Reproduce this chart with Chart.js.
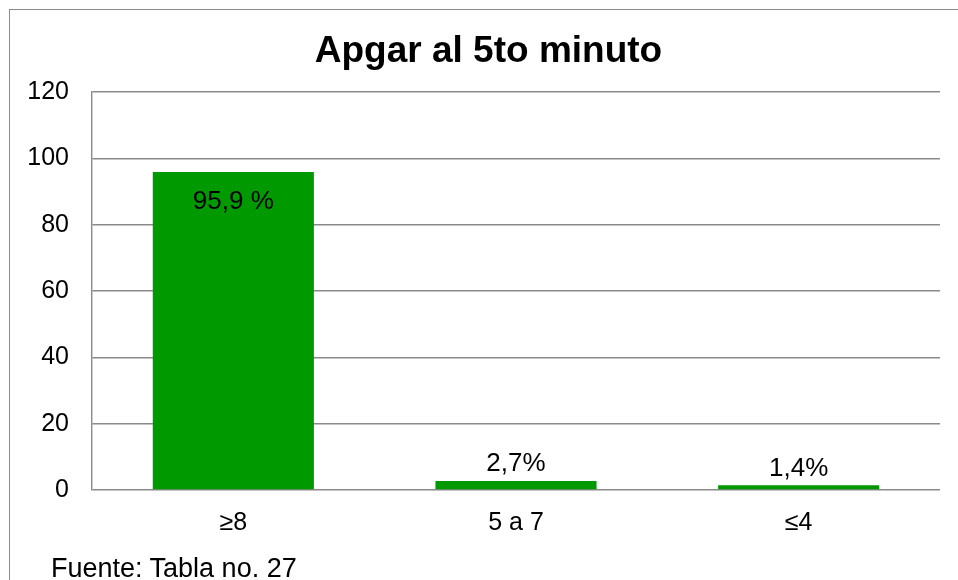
<!DOCTYPE html>
<html lang="es">
<head>
  <meta charset="UTF-8">
  <title>Apgar al 5to minuto</title>
  <script src="https://cdn.jsdelivr.net/npm/chart.js"></script>
  <style>
    body {
      margin: 0;
      background: #fff;
      font-family: 'Liberation Sans', Arial, sans-serif;
    }
    .chart-wrap {
      position: relative;
      width: 958px;
      height: 580px;
      overflow: hidden;
    }
    .frame {
      position: absolute;
      left: 9px;
      top: 9px;
      width: 980px;
      height: 600px;
      border-left: 1.5px solid #8a8a8a;
      border-top: 1.5px solid #8a8a8a;
      pointer-events: none;
    }
    .chart-title {
      position: absolute;
      left: 0;
      width: 977px;
      top: 28px;
      text-align: center;
      font-size: 37px;
      font-weight: bold;
      line-height: 44px;
      color: #000;
    }
    .fuente {
      position: absolute;
      left: 51px;
      top: 552px;
      font-size: 27px;
      color: #000;
      line-height: 32px;
    }
  </style>
</head>
<body>
  <div class="chart-wrap">
    <canvas id="apgarChart"></canvas>
    <div class="frame"></div>
    <div class="chart-title">Apgar al 5to minuto</div>
    <div class="fuente">Fuente: Tabla no. 27</div>
  </div>
  <script>
    const categories = ['≥8', '5 a 7', '≤4'];
    const percentages = [95.9, 2.7, 1.4];
    const valueLabels = ['95,9 %', '2,7%', '1,4%'];
    const yTicks = [0, 20, 40, 60, 80, 100, 120];

    // draws the value text on each bar (inside for the tall one)
    const barLabels = {
      id: 'barLabels',
      afterDatasetsDraw(chart) {
        const ctx = chart.ctx;
        const meta = chart.getDatasetMeta(0);
        ctx.save();
        ctx.font = '26px "Liberation Sans", Arial, sans-serif';
        ctx.fillStyle = '#000';
        ctx.textAlign = 'center';
        ctx.textBaseline = 'middle';
        meta.data.forEach((bar, i) => {
          const y = percentages[i] > 50 ? bar.y + 30 : bar.y - 17;
          ctx.fillText(valueLabels[i], bar.x, y);
        });
        ctx.restore();
      }
    };

    new Chart(document.getElementById('apgarChart').getContext('2d'), {
      type: 'bar',
      data: {
        labels: categories,
        datasets: [{
          data: percentages,
          backgroundColor: '#009900',
          borderWidth: 0,
          barPercentage: 0.57,
          categoryPercentage: 1
        }]
      },
      options: {
        responsive: true,
        maintainAspectRatio: false,
        animation: false,
        layout: { padding: { left: 12, right: 18, top: 92, bottom: 24 } },
        plugins: {
          legend: { display: false },
          tooltip: { enabled: false },
          title: { display: false }
        },
        scales: {
          x: {
            grid: { display: false, drawTicks: false },
            border: { display: false },
            ticks: {
              color: '#000',
              padding: 18,
              font: { family: "'Liberation Sans', Arial, sans-serif", size: 25 }
            }
          },
          y: {
            min: 0,
            max: 120,
            afterFit(scale) { scale.width = 80; },
            afterBuildTicks(scale) { scale.ticks = yTicks.map(v => ({ value: v })); },
            grid: { color: '#8a8a8a', lineWidth: 1.4, drawTicks: false },
            border: { color: '#8a8a8a', width: 1.4 },
            ticks: {
              color: '#000',
              padding: 23,
              font: { family: "'Liberation Sans', Arial, sans-serif", size: 25 }
            }
          }
        }
      },
      plugins: [barLabels]
    });
  </script>
</body>
</html>
